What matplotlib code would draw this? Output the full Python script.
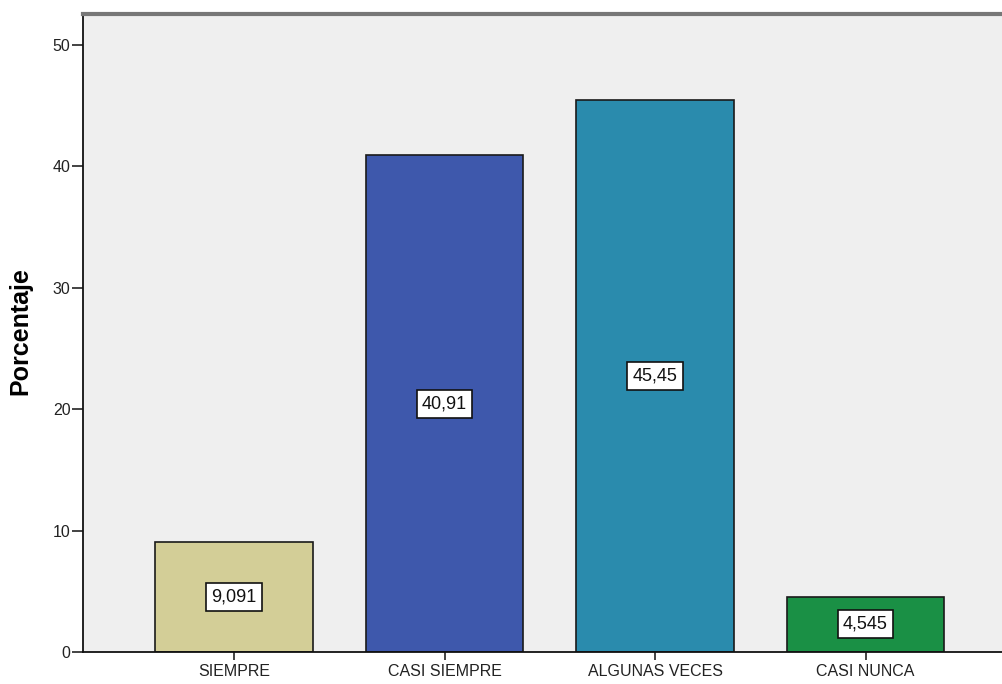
import matplotlib
matplotlib.use("Agg")
import matplotlib.pyplot as plt

categories = ["SIEMPRE", "CASI SIEMPRE", "ALGUNAS VECES", "CASI NUNCA"]
percentages = [9.091, 40.91, 45.45, 4.545]
value_labels = ["9,091", "40,91", "45,45", "4,545"]
bar_colors = ["#D3CE97", "#3E58AC", "#2A8BAD", "#1A9045"]

plt.rcParams["font.family"] = ["Liberation Sans", "DejaVu Sans"]

fig = plt.figure(figsize=(10.03, 6.84), dpi=100)
ax = fig.add_axes([0.0828, 0.0468, 0.9172, 0.9327])
ax.set_facecolor("#EFEFEF")

positions = range(len(categories))
bars = ax.bar(positions, percentages, width=0.75, color=bar_colors,
              edgecolor="#1a1a1a", linewidth=1.2, zorder=2)

# value boxes sit halfway up each bar
for bar, value, label in zip(bars, percentages, value_labels):
    ax.text(bar.get_x() + bar.get_width() / 2, value / 2, label,
            ha="center", va="center", fontsize=13, color="#111111",
            bbox=dict(boxstyle="square,pad=0.3", facecolor="white",
                      edgecolor="#111111", linewidth=1.2),
            zorder=3)

ax.set_xlim(-0.717, 3.653)
ax.set_ylim(0, 52.55)
ax.set_xticks(list(positions))
ax.set_xticklabels(categories, fontsize=11.5)
ax.set_yticks([0, 10, 20, 30, 40, 50])
ax.tick_params(axis="y", direction="out", length=8, width=1.2, labelsize=11.5,
               pad=1, colors="#222222")
ax.tick_params(axis="x", direction="out", length=6, width=1.2, labelsize=11.5,
               pad=3, colors="#222222")

ax.set_ylabel("Porcentaje", fontsize=18, fontweight="bold")
ax.yaxis.set_label_coords(-0.0555, 0.503)

ax.spines["left"].set_color("#111111")
ax.spines["left"].set_linewidth(1.3)
ax.spines["bottom"].set_color("#111111")
ax.spines["bottom"].set_linewidth(1.3)
ax.spines["top"].set_color("#777777")
ax.spines["top"].set_linewidth(3)
ax.spines["right"].set_visible(False)

fig.savefig("out.png", dpi=100)
